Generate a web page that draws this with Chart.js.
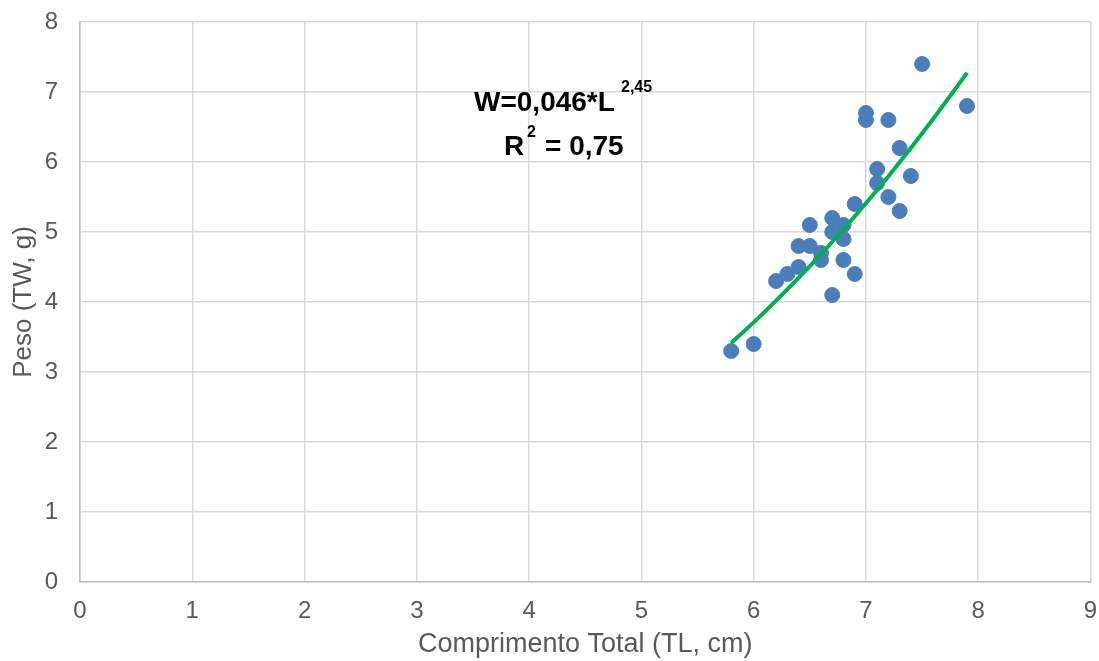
<!DOCTYPE html>
<html>
<head>
<meta charset="utf-8">
<script src="https://cdn.jsdelivr.net/npm/chart.js@4.4.1/dist/chart.umd.min.js"></script>
<style>
  html, body { margin: 0; padding: 0; background: #fff; }
  #wrap { width: 1099px; height: 661px; }
</style>
</head>
<body>
<div id="wrap"><canvas id="chart" width="1099" height="661"></canvas></div>
<script>
// Comprimento total (cm) e peso (g) de cada exemplar
const comprimento = [5.8, 6.0, 6.2, 6.3, 6.4, 6.4, 6.5, 6.5, 6.6, 6.6, 6.7, 6.7, 6.8, 6.8, 6.8,
                     6.7, 6.9, 6.9, 7.0, 7.0, 7.1, 7.1, 7.2, 7.2, 7.3, 7.3, 7.4, 7.5, 7.9];
const peso = [3.3, 3.4, 4.3, 4.4, 4.5, 4.8, 4.8, 5.1, 4.7, 4.6, 5.2, 5.0, 5.1, 4.9, 4.6,
              4.1, 4.4, 5.4, 6.7, 6.6, 5.9, 5.7, 6.6, 5.5, 6.2, 5.3, 5.8, 7.4, 6.8];

// Relação peso-comprimento W = a * L^b
const coefA = 0.046;
const coefB = 2.45;
const ajusteL = [5.8, 6.0, 6.2, 6.4, 6.6, 6.8, 7.0, 7.2, 7.4, 7.6, 7.8, 7.9];

const xTicks = [0, 1, 2, 3, 4, 5, 6, 7, 8, 9];
const yTicks = [0, 1, 2, 3, 4, 5, 6, 7, 8];

const pontos = comprimento.map((l, i) => ({ x: l, y: peso[i] }));
const curva = ajusteL.map(l => ({ x: l, y: coefA * Math.pow(l, coefB) }));

const FONT = "'Liberation Sans', Arial, sans-serif";

// Texto da equação com expoentes
const equacao = {
    id: 'equacao',
    afterDraw(chart) {
        const ctx = chart.ctx;
        ctx.save();
        ctx.fillStyle = '#000';
        ctx.textBaseline = 'alphabetic';
        ctx.textAlign = 'left';
        ctx.font = 'bold 28px ' + FONT;
        ctx.fillText('W=0,046*L', 474, 111);
        ctx.font = 'bold 16px ' + FONT;
        ctx.fillText('2,45', 621, 92);

        ctx.font = 'bold 28px ' + FONT;
        ctx.fillText('R', 504, 155);
        ctx.font = 'bold 16px ' + FONT;
        ctx.fillText('2', 527, 137);
        ctx.font = 'bold 28px ' + FONT;
        ctx.fillText('= 0,75', 545, 155);
        ctx.restore();
    }
};

new Chart(document.getElementById('chart'), {
    type: 'scatter',
    data: {
        datasets: [{
            label: 'Peso',
            data: pontos,
            backgroundColor: '#4a7ebb',
            borderColor: '#4a7ebb',
            pointRadius: 7.5,
            pointHoverRadius: 7.5,
            order: 1
        }, {
            label: 'Ajuste',
            type: 'line',
            data: curva,
            borderColor: '#00b050',
            borderWidth: 4,
            pointRadius: 0,
            fill: false,
            tension: 0.3,
            order: 0
        }]
    },
    options: {
        responsive: false,
        animation: false,
        layout: { padding: { top: 22, right: 8, left: 0, bottom: 0 } },
        plugins: {
            legend: { display: false },
            tooltip: { enabled: false }
        },
        scales: {
            x: {
                type: 'linear',
                min: 0,
                max: 9,
                afterBuildTicks: (axis) => { axis.ticks = xTicks.map(v => ({ value: v })); },
                afterFit: (axis) => {
                    axis.height = 79;
                    axis.paddingLeft = 0;
                    axis.paddingRight = 0;
                },
                grid: { color: '#d9d9d9', lineWidth: 1.5, drawTicks: false },
                border: { color: '#bfbfbf', width: 1.5 },
                ticks: { color: '#595959', font: { family: FONT, size: 24 }, padding: 15 },
                title: {
                    display: true,
                    text: 'Comprimento Total (TL, cm)',
                    color: '#595959',
                    font: { family: FONT, size: 27 },
                    padding: { top: 0, bottom: 0 }
                }
            },
            y: {
                type: 'linear',
                min: 0,
                max: 8,
                afterBuildTicks: (axis) => { axis.ticks = yTicks.map(v => ({ value: v })); },
                afterFit: (axis) => {
                    axis.width = 80;
                    axis.paddingTop = 0;
                    axis.paddingBottom = 0;
                },
                grid: { color: '#d9d9d9', lineWidth: 1.5, drawTicks: false },
                border: { color: '#bfbfbf', width: 1.5 },
                ticks: { color: '#595959', font: { family: FONT, size: 24 }, padding: 22 },
                title: {
                    display: true,
                    text: 'Peso (TW, g)',
                    color: '#595959',
                    font: { family: FONT, size: 26 },
                    padding: { top: 8, bottom: 0 }
                }
            }
        }
    },
    plugins: [equacao]
});
</script>
</body>
</html>
